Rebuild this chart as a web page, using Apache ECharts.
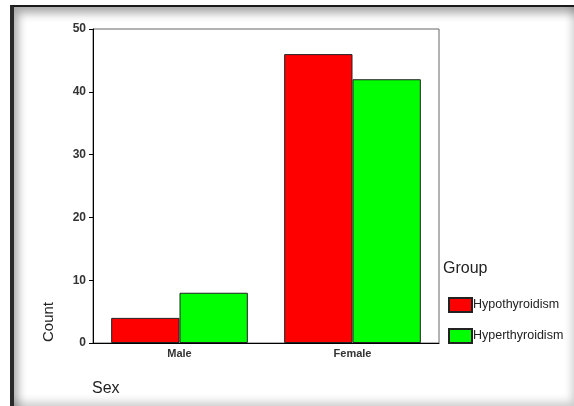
<!DOCTYPE html>
<html>
<head>
<meta charset="utf-8">
<script src="https://cdn.jsdelivr.net/npm/echarts@6/dist/echarts.min.js"></script>
<style>
html,body{margin:0;padding:0;background:#fff;width:574px;height:406px;overflow:hidden;}
#frame{position:absolute;left:10px;top:5px;width:566px;height:401px;box-sizing:border-box;
  border-left:4px solid #2a2a2a;border-top:2px solid #1a1a1a;
  box-shadow: inset 8px 10px 10px -4px rgba(0,0,0,0.35), inset -8px -8px 8px -4px rgba(0,0,0,0.2);}
#chart{position:absolute;left:0;top:0;width:574px;height:406px;}
</style>
</head>
<body>
<div id="frame"></div>
<div id="chart"></div>
<script>
const categories = ['Male', 'Female'];
const hypothyroidism = [4, 46];
const hyperthyroidism = [8, 42];
const yTicks = [0, 10, 20, 30, 40, 50];

const chart = echarts.init(document.getElementById('chart'), null, {renderer: 'canvas'});
const font = 'Arial, "Liberation Sans", sans-serif';
chart.setOption({
  backgroundColor: 'transparent',
  animation: false,
  grid: {left: 93, top: 29, width: 346, height: 314, show: true, borderColor: '#666', borderWidth: 1, backgroundColor: 'transparent'},
  xAxis: {
    type: 'category',
    data: categories,
    axisLine: {lineStyle: {color: '#000', width: 1}},
    axisTick: {alignWithLabel: true, length: 4, lineStyle: {color: '#000'}},
    axisLabel: {color: '#333', fontFamily: font, fontSize: 11, fontWeight: 'bold', margin: 5},
    splitLine: {show: false}
  },
  yAxis: {
    type: 'value',
    min: yTicks[0],
    max: yTicks[yTicks.length - 1],
    interval: 10,
    axisLine: {show: true, lineStyle: {color: '#000', width: 1}},
    axisTick: {show: true, length: 4, lineStyle: {color: '#000'}},
    axisLabel: {color: '#333', fontFamily: font, fontSize: 12, fontWeight: 'bold', margin: 7},
    splitLine: {show: false}
  },
  legend: {
    orient: 'vertical',
    left: 448,
    top: 297,
    padding: 0,
    itemWidth: 23,
    itemHeight: 14,
    itemGap: 15,
    icon: 'rect',
    textStyle: {color: '#222', fontFamily: font, fontSize: 12.5, padding: [0, 0, 0, -4]},
    data: ['Hypothyroidism', 'Hyperthyroidism']
  },
  graphic: [
    {type: 'text', left: 443, top: 261, style: {text: 'Group', fontFamily: font, fontSize: 16, fill: '#222'}},
    {type: 'text', left: 41, top: 302, rotation: Math.PI / 2, style: {text: 'Count', fontFamily: font, fontSize: 15, fill: '#222'}},
    {type: 'text', left: 92, top: 381, style: {text: 'Sex', fontFamily: font, fontSize: 16, fill: '#222'}}
  ],
  series: [
    {
      name: 'Hypothyroidism', type: 'bar', data: hypothyroidism,
      barGap: '0%', barCategoryGap: '21%',
      itemStyle: {color: '#ff0000', borderColor: '#222', borderWidth: 1}
    },
    {
      name: 'Hyperthyroidism', type: 'bar', data: hyperthyroidism,
      barGap: '0%', barCategoryGap: '21%',
      itemStyle: {color: '#00ff00', borderColor: '#222', borderWidth: 1}
    }
  ]
});
</script>
</body>
</html>
